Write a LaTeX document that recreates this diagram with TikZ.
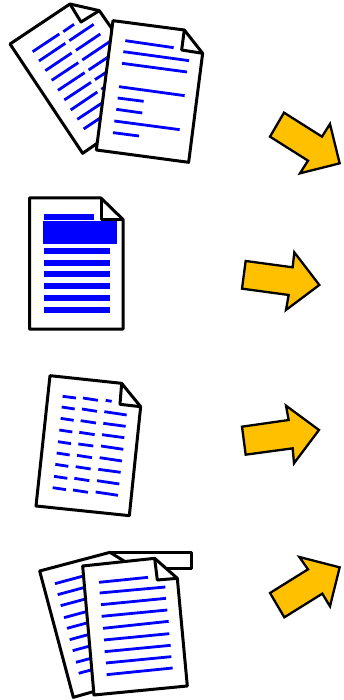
\documentclass[tikz,border=0pt]{standalone}
\definecolor{arrowfill}{HTML}{FFC000}
\tikzset{
  page/.style={draw=black,fill=white,line width=3pt,line join=round},
  foldline/.style={draw=black,line width=3pt,line join=round},
  txt/.style={draw=blue,line width=2.8pt},
  bar/.style={fill=blue},
  bigarrow/.style={draw=black,fill=arrowfill,line width=2.3pt,line join=miter},
  zoomed/.style={x=0.3333pt,y=-0.3333pt}
}
\begin{document}
\begin{tikzpicture}[x=1pt,y=-1pt]
\useasboundingbox (0,0) rectangle (343,700);
% document 1
\begin{scope}[shift={(0,0)},zoomed]
\path[page] (30,132) -- (210,12) -- (298,32) -- (335,85) -- (335,400) -- (248,460) -- cycle;
\path[foldline] (210,12) -- (243,66) -- (298,32);
\foreach \a/\b/\c/\d in {98/155/178/102,190/95/222/73,117/183/196/130,208/122/281/73,136/212/215/159,228/151/301/102,155/241/235/188,247/180/335/121,174/271/254/218,266/210/335/164,193/300/273/247,285/239/335/206,212/330/292/276,304/268/335/247,232/358/335/290,251/387/335/331}
  \draw[txt] (\a,\b) -- (\c,\d);
\path[page] (339,62) -- (553,90) -- (608,160) -- (566,487) -- (289,450) -- cycle;
\path[foldline] (553,90) -- (545,150) -- (608,160);
\foreach \a/\b/\c/\d in {376/122/521/143,370/155/567/182,366/190/561/216,357/260/554/287,353/294/431/304,349/328/427/339,343/363/539/389,339/398/417/408}
  \draw[txt] (\a,\b) -- (\c,\d);
\end{scope}
% document 2
\path[page] (29.5,198) -- (101,198) -- (123,219.5) -- (123,329) -- (29.5,329) -- cycle;
\path[foldline] (101,198) -- (101,219.5) -- (123,219.5);
\fill[bar] (44,214) rectangle (93.7,220);
\fill[bar] (43,221) rectangle (117,244);
\foreach \y in {251,262.5,274,286.3,297.8,309.5}
  \fill[bar] (44,\y-3) rectangle (110,\y+3);
% document 3
\begin{scope}[shift={(25,365)},zoomed]
\path[page] (75,32) -- (290,55) -- (347,125) -- (313,452) -- (33,423) -- cycle;
\path[foldline] (290,55) -- (285,118) -- (347,125);
\foreach \a/\b/\c/\d in {113/94/153/99,174/99/219/106,242/106/260/109,
110/126/149/132,171/132/216/139,238/140/305/150,
107/160/146/166,167/167/213/174,235/175/302/184,
103/195/142/201,163/202/209/209,231/209/298/218,
99/230/138/236,160/237/205/243,228/243/295/253,
95/264/134/270,156/271/201/278,224/278/291/288,
91/298/130/304,152/305/197/312,220/313/287/322,
87/334/127/340,148/340/193/347,216/347/283/357,
83/368/123/374,144/375/189/382,212/381/279/391}
  \draw[txt] (\a,\b) -- (\c,\d);
\end{scope}
% document 4
\begin{scope}[shift={(30,540)},zoomed]
\fill[white] (240,37) -- (484,37) -- (484,84) -- (300,84) -- cycle;
\draw[foldline] (240,37) -- (484,37) -- (484,84) -- (390,84);
\path[page] (29,93) -- (240,37) -- (282,63) -- (300,300) -- (190,455) -- (130,472) -- cycle;
\foreach \a/\b in {75/131,83/164,92/197,102/233,111/265,119/299,128/332,138/367,146/400}
  \draw[txt] (\a,\b) -- ++(100,-27);
\path[page] (158,78) -- (374,55) -- (442,115) -- (472,438) -- (192,465) -- cycle;
\path[foldline] (374,55) -- (382,120) -- (442,115);
\foreach \a/\b/\c/\d in {207/127/354/112,209/159/406/141,213/194/408/175,215/229/412/210,219/265/416/244,222/300/418/281,224/335/422/316,228/369/424/350,230/404/428/384}
  \draw[txt] (\a,\b) -- (\c,\d);
\end{scope}
% arrows
\begin{scope}[shift={(230,100)},zoomed]
\path[bigarrow] (162,38) -- (276,110) -- (300,72) -- (329,190) -- (210,220) -- (234,182) -- (120,110) -- cycle;
\path[bigarrow] (47,483) -- (188,502) -- (193,457) -- (268,555) -- (168,630) -- (176,585) -- (36,566) -- cycle;
\end{scope}
\begin{scope}[shift={(230,395)},zoomed]
\path[bigarrow] (36,95) -- (176,75) -- (168,32) -- (267,105) -- (192,205) -- (188,160) -- (47,179) -- cycle;
\path[bigarrow] (120,594) -- (234,523) -- (208,486) -- (329,517) -- (300,634) -- (277,596) -- (163,667) -- cycle;
\end{scope}
\end{tikzpicture}
\end{document}
